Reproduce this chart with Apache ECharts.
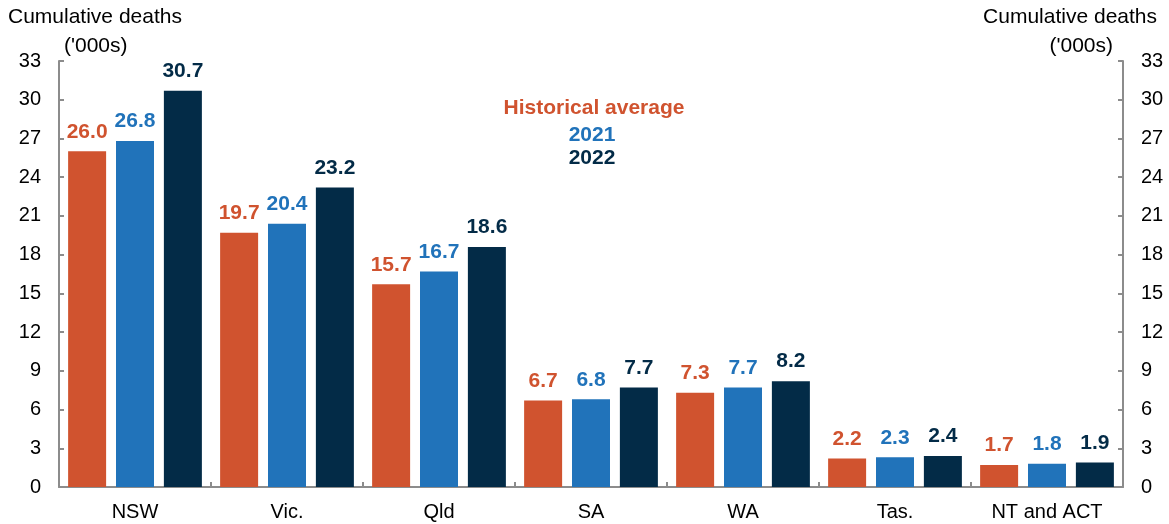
<!DOCTYPE html>
<html>
<head>
<meta charset="utf-8">
<script src="https://cdn.jsdelivr.net/npm/echarts@6/dist/echarts.min.js"></script>
<style>
  html, body { margin: 0; padding: 0; background: #fff; }
  #chart { width: 1169px; height: 524px; }
</style>
</head>
<body>
<div id="chart"></div>
<script>
// states / territories
const categories = ['NSW', 'Vic.', 'Qld', 'SA', 'WA', 'Tas.', 'NT and ACT']
// cumulative deaths ('000s)
const histAvg = [26.0, 19.7, 15.7, 6.7, 7.3, 2.2, 1.7]
const deaths2021 = [26.8, 20.4, 16.7, 6.8, 7.7, 2.3, 1.8]
const deaths2022 = [30.7, 23.2, 18.6, 7.7, 8.2, 2.4, 1.9]

const font = 'Liberation Sans, Arial, sans-serif'
const axisGrey = '#8c8c8c'
const cOrange = '#d0532f'
const cBlue = '#2173ba'
const cNavy = '#032b47'

const myChart = echarts.init(document.getElementById('chart'))

function yAxisCfg (pos) {
    return {
        type: 'value',
        position: pos,
        min: 0,
        max: 33,
        interval: 3,
        axisLine: { show: true, lineStyle: { color: axisGrey, width: 2 } },
        axisTick: { show: true, inside: true, length: 5, lineStyle: { color: axisGrey, width: 2 } },
        splitLine: { show: false },
        axisLabel: { color: '#000', fontSize: 20, fontFamily: font, margin: 18 }
    }
}

function barSeries (name, data, color) {
    return {
        name: name,
        type: 'bar',
        data: data,
        barWidth: 38,
        barGap: '26%',
        itemStyle: { color: color },
        label: {
            show: true,
            position: 'top',
            distance: 9,
            color: color,
            fontWeight: 'bold',
            fontSize: 21,
            fontFamily: font,
            formatter: function (p) { return p.value.toFixed(1) }
        }
    }
}

const option = {
    animation: false,
    backgroundColor: '#fff',
    grid: { left: 59, right: 46, top: 61, bottom: 37, containLabel: false },
    xAxis: {
        type: 'category',
        data: categories,
        axisLine: { show: true, lineStyle: { color: axisGrey, width: 2 } },
        axisTick: { show: true, inside: true, length: 5, interval: 0, lineStyle: { color: axisGrey, width: 2 } },
        axisLabel: { color: '#000', fontSize: 20, fontFamily: font, margin: 15, interval: 0 }
    },
    yAxis: [yAxisCfg('left'), yAxisCfg('right')],
    series: [
        barSeries('Historical average', histAvg, cOrange),
        barSeries('2021', deaths2021, cBlue),
        barSeries('2022', deaths2022, cNavy)
    ],
    graphic: [
        // axis titles
        { type: 'text', left: 8, top: 7, style: { text: 'Cumulative deaths', fill: '#000', font: '21px ' + font } },
        { type: 'text', left: 64, top: 36, style: { text: "('000s)", fill: '#000', font: '21px ' + font } },
        { type: 'text', right: 12, top: 7, style: { text: 'Cumulative deaths', fill: '#000', font: '21px ' + font } },
        { type: 'text', right: 56, top: 36, style: { text: "('000s)", fill: '#000', font: '21px ' + font } },
        // legend
        { type: 'text', x: 594, y: 108, style: { text: 'Historical average', fill: cOrange, font: 'bold 21px ' + font, align: 'center', verticalAlign: 'middle' } },
        { type: 'text', x: 592, y: 135, style: { text: '2021', fill: cBlue, font: 'bold 21px ' + font, align: 'center', verticalAlign: 'middle' } },
        { type: 'text', x: 592, y: 158, style: { text: '2022', fill: cNavy, font: 'bold 21px ' + font, align: 'center', verticalAlign: 'middle' } }
    ]
}
option && myChart.setOption(option)
</script>
</body>
</html>
